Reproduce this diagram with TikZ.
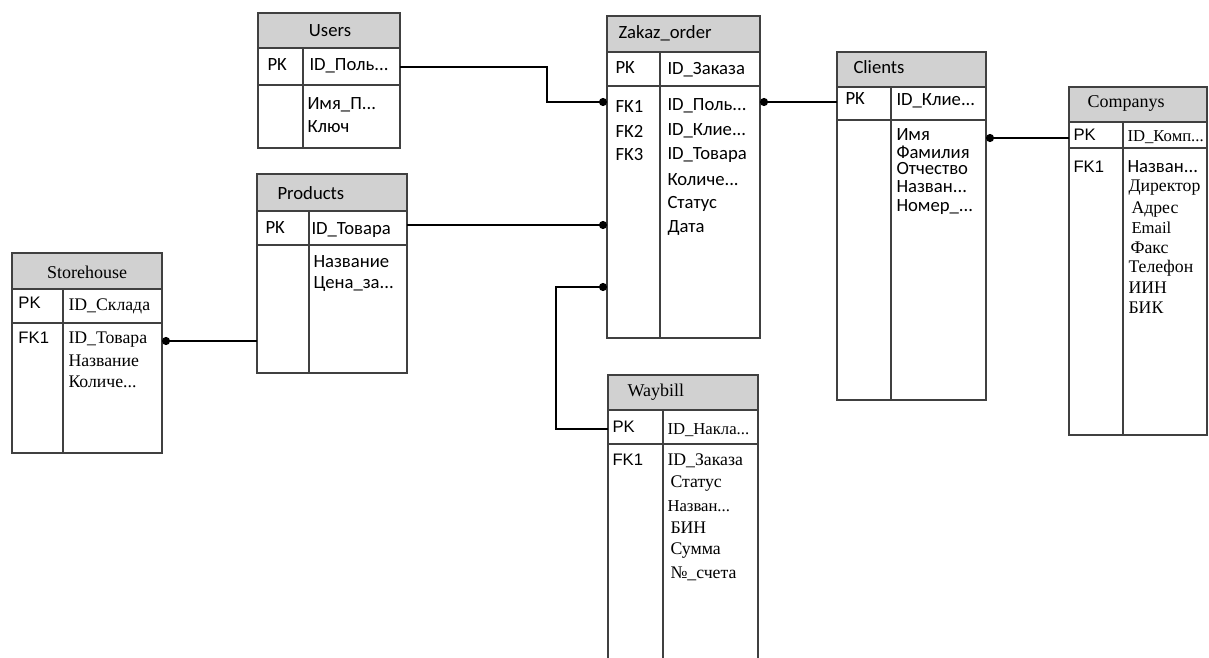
\documentclass[tikz,border=0pt]{standalone}
\usepackage{fontspec}
\setmainfont{Carlito}
\newfontfamily\serifrm{Liberation Serif}
\newfontfamily\arialrm{Liberation Sans}
\usetikzlibrary{arrows.meta}

\tikzset{every picture/.style={line width=0.75pt}}
\tikzset{
  tbl/.style={draw=black!75, line width=1.1pt},
  hdrfill/.style={fill=black!18, draw=none},
  ttl/.style={inner sep=0pt, font=\fontsize{14}{16}\selectfont},
  ttlrm/.style={inner sep=0pt, font=\serifrm\fontsize{13.5}{15}\selectfont},
  fld/.style={anchor=west, inner sep=0pt, font=\fontsize{14}{16}\selectfont},
  fldrm/.style={anchor=west, inner sep=0pt, font=\serifrm\fontsize{13.3}{15}\selectfont},
  fldsm/.style={anchor=west, inner sep=0pt, font=\serifrm\fontsize{12.5}{15}\selectfont},
  keyar/.style={anchor=west, inner sep=0pt, font=\arialrm\fontsize{12.5}{14}\selectfont},
  link/.style={draw=black, line width=1.5pt},
  dotend/.style={-{Circle[length=6pt,width=6pt]}},
  dotstart/.style={{Circle[length=6pt,width=6pt]}-},
}

\begin{document}
\begin{tikzpicture}[x=0.75pt,y=0.75pt,yscale=-1,xscale=1]
\clip (0,0) rectangle (1209,657);

%Table: Users
\draw [hdrfill] (258,13) rectangle (400,48);
\draw [tbl] (258,13) rectangle (400,148);
\draw [tbl] (258,48) -- (400,48) (258,85) -- (400,85) (303,48) -- (303,148);
\coordinate (usrP) at (400,67);
% Text Node
\draw (330,31) node [ttl] (usrT) {Users};
\draw (267,65) node [fld] (usrPK) {PK};
\draw (309,66) node [fld] (usrID) {ID\_Поль...};
\draw (307,105) node [fld] (usrName) {Имя\_П...};
\draw (307,127) node [fld] (usrKey) {Ключ};

%Table: Zakaz_order
\draw [hdrfill] (607,16) rectangle (760,52);
\draw [tbl] (607,16) rectangle (760,338);
\draw [tbl] (607,52) -- (760,52) (607,86) -- (760,86) (660,52) -- (660,338);
\coordinate (zakP1) at (607,102);
\coordinate (zakP2) at (760,102);
\coordinate (zakP3) at (607,225);
\coordinate (zakP4) at (607,287);
% Text Node
\draw (618,33) node [ttl, anchor=west] (zakT) {Zakaz\_order};
\draw (615,68) node [fld] (zakPK) {PK};
\draw (667,70) node [fld] (zakID) {ID\_Заказа};
\draw (615,106) node [fld] (zakFK1) {FK1};
\draw (615,131) node [fld] (zakFK2) {FK2};
\draw (615,155) node [fld] (zakFK3) {FK3};
\draw (667,106) node [fld] (zakUsr) {ID\_Поль...};
\draw (667,131) node [fld] (zakCl) {ID\_Клие...};
\draw (667,155) node [fld] (zakPr) {ID\_Товара};
\draw (667,180) node [fld] (zakQty) {Количе...};
\draw (667,204) node [fld] (zakSt) {Статус};
\draw (667,228) node [fld] (zakDt) {Дата};

%Table: Clients
\draw [hdrfill] (837,52) rectangle (986,87);
\draw [tbl] (837,52) rectangle (986,400);
\draw [tbl] (837,87) -- (986,87) (837,120) -- (986,120) (891,87) -- (891,400);
\coordinate (clP1) at (837,102);
\coordinate (clP2) at (986,138);
% Text Node
\draw (853,67) node [ttl, anchor=west] (clT) {Clients};
\draw (845,99) node [fld] (clPK) {PK};
\draw (896,101) node [fld] (clID) {ID\_Клие...};
\draw (896,135) node [fld] (clN1) {Имя};
\draw (896,152) node [fld] (clN2) {Фамилия};
\draw (896,169) node [fld] (clN3) {Отчество};
\draw (896,187) node [fld] (clN4) {Назван...};
\draw (896,207) node [fld] (clN5) {Номер\_...};

%Table: Companys
\draw [hdrfill] (1069,87) rectangle (1207,122);
\draw [tbl] (1069,87) rectangle (1207,435);
\draw [tbl] (1069,122) -- (1207,122) (1069,148) -- (1207,148) (1123,122) -- (1123,435);
\coordinate (coP) at (1069,138);
% Text Node
\draw (1087,103) node [ttlrm, anchor=west] (coT) {Companys};
\draw (1073,135) node [keyar] (coPK) {PK};
\draw (1127,137) node [fldsm] (coID) {ID\_Комп...};
\draw (1073,167) node [keyar] (coFK1) {FK1};
\draw (1127,167) node [fld] (coNm) {Назван...};
\draw (1128,188) node [fldrm] (coDir) {Директор};
\draw (1131,210) node [fldrm] (coAdr) {Адрес};
\draw (1131,228) node [fldsm] (coMail) {Email};
\draw (1130,248) node [fldrm] (coFax) {Факс};
\draw (1128,268) node [fldrm] (coTel) {Телефон};
\draw (1128,288) node [fldrm] (coIIN) {ИИН};
\draw (1128,308) node [fldrm] (coBIK) {БИК};

%Table: Storehouse
\draw [hdrfill] (12,253) rectangle (162,289);
\draw [tbl] (12,253) rectangle (162,453);
\draw [tbl] (12,289) -- (162,289) (12,323) -- (162,323) (63,289) -- (63,453);
\coordinate (stP) at (162,341);
% Text Node
\draw (87,272) node [ttlrm] (stT) {Storehouse};
\draw (18,303) node [keyar] (stPK) {PK};
\draw (68,306) node [fldrm] (stID) {ID\_Склада};
\draw (18,338) node [keyar] (stFK1) {FK1};
\draw (68,340) node [fldrm] (stPr) {ID\_Товара};
\draw (68,361) node [fldrm] (stNm) {Название};
\draw (68,382) node [fldrm] (stQty) {Количе...};

%Table: Products
\draw [hdrfill] (257,174) rectangle (407,211);
\draw [tbl] (257,174) rectangle (407,373);
\draw [tbl] (257,211) -- (407,211) (257,245) -- (407,245) (309,211) -- (309,373);
\coordinate (prP1) at (407,225);
\coordinate (prP2) at (257,341);
% Text Node
\draw (277,193) node [ttl, anchor=west] (prT) {Products};
\draw (265,228) node [fld] (prPK) {PK};
\draw (311,230) node [fld] (prID) {ID\_Товара};
\draw (313,262) node [fld] (prNm) {Название};
\draw (313,284) node [fld] (prCost) {Цена\_за...};

%Table: Waybill
\draw [hdrfill] (608,375) rectangle (758,410);
\draw [tbl] (608,375) rectangle (758,670);
\draw [tbl] (608,410) -- (758,410) (608,444) -- (758,444) (663,410) -- (663,670);
\coordinate (wbP) at (608,429);
% Text Node
\draw (627,392) node [ttlrm, anchor=west] (wbT) {Waybill};
\draw (612,427) node [keyar] (wbPK) {PK};
\draw (667,430) node [fldsm] (wbID) {ID\_Накла...};
\draw (612,460) node [keyar] (wbFK1) {FK1};
\draw (667,461) node [fldrm] (wbOrd) {ID\_Заказа};
\draw (670,484) node [fldrm] (wbSt) {Статус};
\draw (667,506) node [fldsm] (wbNm) {Назван...};
\draw (670,528) node [fldrm] (wbBIN) {БИН};
\draw (670,551) node [fldrm] (wbSum) {Сумма};
\draw (670,574) node [fldrm] (wbAcc) {№\_счета};

%Connectors
\coordinate (bendU) at (547,0);
\coordinate (bendW) at (556,0);
\draw [link, dotend] (usrP) -| (bendU |- zakP1) -- (zakP1);
\draw [link, dotstart] (zakP2) -- (clP1);
\draw [link, dotstart] (clP2) -- (coP);
\draw [link, dotend] (prP1) -- (zakP3);
\draw [link, dotend] (wbP) -| (bendW |- zakP4) -- (zakP4);
\draw [link, dotstart] (stP) -- (prP2);

\end{tikzpicture}
\end{document}
